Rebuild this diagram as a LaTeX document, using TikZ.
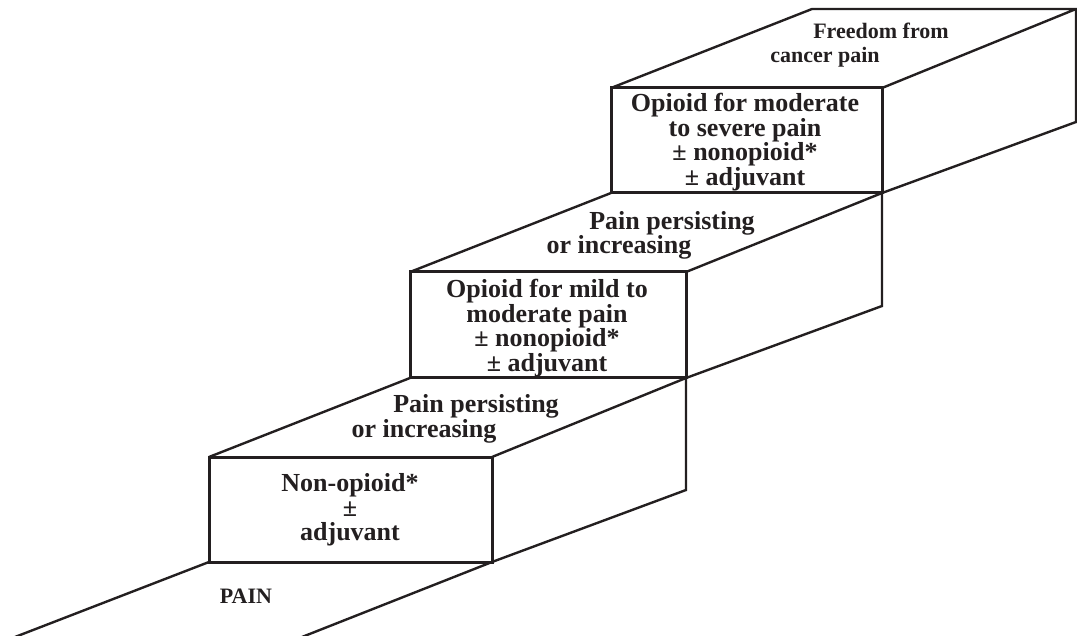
\documentclass[tikz,border=0pt]{standalone}
\usepackage{fontspec}
\setmainfont{Liberation Serif}
\usepackage{tikz}
\definecolor{ink}{RGB}{35,31,32}
\begin{document}
\begin{tikzpicture}[x=1pt,y=-1pt,
  edge/.style={draw=ink,line width=2.4pt,line join=miter},
  front/.style={draw=ink,line width=3pt},
  boxtext/.style={text=ink,align=center,font=\fontsize{26}{24.5}\selectfont\bfseries,inner sep=0pt},
  toptext/.style={text=ink,anchor=base,font=\fontsize{26}{24}\selectfont\bfseries,inner sep=0pt},
  smalltext/.style={text=ink,anchor=base,font=\fontsize{22}{24}\selectfont\bfseries,inner sep=0pt}]
\useasboundingbox (0,0) rectangle (1077,636);
% named corners
\coordinate (g1) at (15,637);
\coordinate (g2) at (302,637);
\coordinate (a1) at (209,457); \coordinate (b1) at (492,457);
\coordinate (c1) at (492,562); \coordinate (d1) at (209,562);
\coordinate (a2) at (410,272); \coordinate (b2) at (686,272);
\coordinate (c2) at (686,378); \coordinate (d2) at (410,378);
\coordinate (a3) at (611,88);  \coordinate (b3) at (882,88);
\coordinate (c3) at (882,193); \coordinate (d3) at (611,193);
\coordinate (s1) at (686,490);
\coordinate (s2) at (882,306);
\coordinate (s3) at (1076,122);
\coordinate (t1) at (812,9);
\coordinate (t2) at (1076,9);
% ground
\draw[edge] (g1) -- (d1);
\draw[edge] (g2) -- (c1);
% step 1
\draw[edge] (a1) -- (d2);
\draw[edge] (b1) -- (c2);
\draw[edge] (c1) -- (s1) -- (c2);
\draw[front] (a1) rectangle (c1);
% step 2
\draw[edge] (a2) -- (d3);
\draw[edge] (b2) -- (c3);
\draw[edge] (c2) -- (s2) -- (c3);
\draw[front] (a2) rectangle (c2);
% step 3
\draw[edge] (a3) -- (t1) -- (t2) -- (b3);
\draw[edge] (c3) -- (s3) -- (t2);
\draw[front] (a3) rectangle (c3);
% texts
\node[boxtext] (n1) at (350,510) {Non-opioid*\\ \textpm\\ adjuvant};
\node[boxtext] (n2) at (547,328) {Opioid for mild to\\ moderate pain\\ \textpm\ nonopioid*\\ \textpm\ adjuvant};
\node[boxtext] (n3) at (745,142) {Opioid for moderate\\ to severe pain\\ \textpm\ nonopioid*\\ \textpm\ adjuvant};
\node[toptext] (p1a) at (476,413) {Pain persisting};
\node[toptext] (p1b) at (424,438) {or increasing};
\node[toptext] (p2a) at (672,230) {Pain persisting};
\node[toptext] (p2b) at (619,254) {or increasing};
\node[smalltext] (f1) at (881,39) {Freedom from};
\node[smalltext] (f2) at (825,63) {cancer pain};
\node[smalltext] (pain) at (246,603) {PAIN};
\end{tikzpicture}
\end{document}
